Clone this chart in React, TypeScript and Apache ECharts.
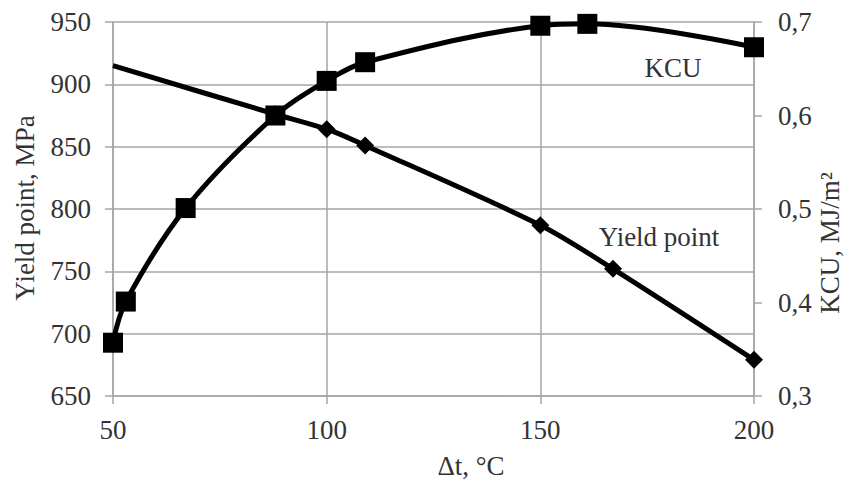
import React, { useEffect, useRef } from "react";
import * as echarts from "echarts";

const yieldX = [50, 88, 100, 109, 150, 167, 200];
const yieldValues = [915, 876, 864, 851, 787, 752, 679];
const kcuX = [50, 53, 67, 88, 100, 109, 150, 161, 200];
const kcuValues = [0.357, 0.401, 0.501, 0.6, 0.637, 0.657, 0.696, 0.698, 0.673];
const xTicks = [50, 100, 150, 200];
const leftTicks = [650, 700, 750, 800, 850, 900, 950];
const rightTicks = [0.3, 0.4, 0.5, 0.6, 0.7];

const FONT = "Liberation Serif";
const TEXT = "#333333";
const AXIS = "#a6a6a6";
const FS = 27;

export default function App() {
  const ref = useRef<HTMLDivElement>(null);
  useEffect(() => {
    if (!ref.current) return;
    const chart = echarts.init(ref.current, undefined, { renderer: "svg" });
    const labelStyle = { color: TEXT, fontFamily: FONT, fontSize: FS };
    const txt = (text: string, x: number, y: number, rot = 0) => ({
      type: "text",
      x,
      y,
      rotation: rot,
      style: {
        text,
        fill: TEXT,
        fontFamily: FONT,
        fontSize: FS,
        textAlign: "center",
        textVerticalAlign: "middle",
      },
    });
    chart.setOption({
      animation: false,
      backgroundColor: "#ffffff",
      grid: { left: 113, right: 101, top: 22, bottom: 94 },
      xAxis: {
        type: "value",
        min: xTicks[0],
        max: xTicks[xTicks.length - 1],
        interval: 50,
        axisLine: { show: true, lineStyle: { color: AXIS, width: 1.5 } },
        axisTick: { show: true, length: 8, lineStyle: { color: AXIS, width: 1.5 } },
        splitLine: { show: true, lineStyle: { color: AXIS, width: 1.5 } },
        axisLabel: { ...labelStyle, margin: 20 },
      },
      yAxis: [
        {
          type: "value",
          min: leftTicks[0],
          max: leftTicks[leftTicks.length - 1],
          interval: 50,
          axisLine: { show: true, lineStyle: { color: AXIS, width: 1.5 } },
          axisTick: { show: true, length: 8, lineStyle: { color: AXIS, width: 1.5 } },
          splitLine: { show: true, lineStyle: { color: AXIS, width: 1.5 } },
          axisLabel: { ...labelStyle, margin: 22 },
        },
        {
          type: "value",
          position: "right",
          min: rightTicks[0],
          max: rightTicks[rightTicks.length - 1],
          interval: 0.1,
          axisLine: { show: true, lineStyle: { color: AXIS, width: 1.5 } },
          axisTick: { show: true, length: 8, lineStyle: { color: AXIS, width: 1.5 } },
          splitLine: { show: false },
          axisLabel: {
            ...labelStyle,
            margin: 24,
            formatter: (v: number) => v.toFixed(1).replace(".", ","),
          },
        },
      ],
      series: [
        {
          name: "Yield point",
          type: "line",
          yAxisIndex: 0,
          smooth: 0.3,
          data: yieldX.map((x, i) =>
            i === 0 ? { value: [x, yieldValues[i]], symbol: "none" } : [x, yieldValues[i]]
          ),
          symbol: "diamond",
          symbolSize: 18,
          lineStyle: { color: "#000", width: 5 },
          itemStyle: { color: "#000" },
          z: 2,
        },
        {
          name: "KCU",
          type: "line",
          yAxisIndex: 1,
          smooth: 0.35,
          data: kcuX.map((x, i) => [x, kcuValues[i]]),
          symbol: "rect",
          symbolSize: 20,
          lineStyle: { color: "#000", width: 5 },
          itemStyle: { color: "#000" },
          z: 3,
        },
      ],
      graphic: [
        txt("Yield point, MPa", 25, 208, Math.PI / 2),
        txt("KCU, MJ/m²", 830, 243, Math.PI / 2),
        txt("Δt, °C", 471, 466),
        txt("KCU", 673, 68),
        txt("Yield point", 659, 237),
      ],
    });
    return () => chart.dispose();
  }, []);
  return <div ref={ref} style={{ width: 855, height: 490, position: "absolute", left: 0, top: 0 }} />;
}
